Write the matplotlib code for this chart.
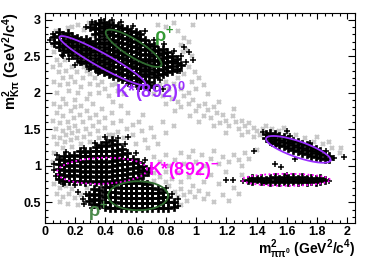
#!/usr/bin/env python3
"""
plot.py — Diagrama de Dalitz (m2_pipi0 vs m2_Kpi)
Salida: out.png (374x268)
"""

import numpy as np
import matplotlib
matplotlib.use("Agg")
import matplotlib.pyplot as plt
from matplotlib.ticker import MultipleLocator, FuncFormatter

# ── Datos: columnas (x, [y...]) de eventos seleccionados (negro) ──
nube_superior = [
    (0.06, [2.68, 2.76]),
    (0.09, [2.62, 2.70, 2.78, 2.83]),
    (0.12, [2.58, 2.65, 2.72, 2.79]),
    (0.15, [2.55, 2.62, 2.69, 2.76, 2.82]),
    (0.18, [2.52, 2.58, 2.65, 2.72, 2.78]),
    (0.21, [2.48, 2.55, 2.62, 2.69, 2.75]),
    (0.24, [2.44, 2.51, 2.58, 2.65, 2.72]),
    (0.27, [2.40, 2.47, 2.54, 2.61, 2.68, 2.74]),
    (0.30, [2.37, 2.44, 2.51, 2.58, 2.65, 2.71, 2.90]),
    (0.33, [2.34, 2.41, 2.48, 2.55, 2.62, 2.68, 2.80, 2.87, 2.94]),
    (0.36, [2.31, 2.38, 2.45, 2.52, 2.59, 2.66, 2.74, 2.81, 2.88, 2.95]),
    (0.39, [2.28, 2.35, 2.42, 2.49, 2.56, 2.63, 2.70, 2.77, 2.84, 2.91, 2.97]),
    (0.42, [2.25, 2.32, 2.39, 2.46, 2.53, 2.60, 2.67, 2.74, 2.81, 2.88, 2.94]),
    (0.45, [2.23, 2.30, 2.37, 2.44, 2.51, 2.58, 2.65, 2.72, 2.79, 2.86, 2.93]),
    (0.48, [2.21, 2.28, 2.35, 2.42, 2.49, 2.56, 2.63, 2.70, 2.77, 2.84, 2.91]),
    (0.51, [2.19, 2.26, 2.33, 2.40, 2.47, 2.54, 2.61, 2.68, 2.75, 2.82, 2.89]),
    (0.54, [2.17, 2.24, 2.31, 2.38, 2.45, 2.52, 2.59, 2.66, 2.73, 2.80, 2.87]),
    (0.57, [2.15, 2.22, 2.29, 2.36, 2.43, 2.50, 2.57, 2.64, 2.71, 2.78, 2.85]),
    (0.60, [2.13, 2.20, 2.27, 2.34, 2.41, 2.48, 2.55, 2.62, 2.69, 2.76, 2.83]),
    (0.63, [2.11, 2.18, 2.25, 2.32, 2.39, 2.46, 2.53, 2.60, 2.67, 2.74, 2.80]),
    (0.66, [2.09, 2.16, 2.23, 2.30, 2.37, 2.44, 2.51, 2.58, 2.65, 2.72]),
    (0.69, [2.08, 2.15, 2.25, 2.32, 2.39, 2.46, 2.53, 2.60, 2.67]),
    (0.72, [2.10, 2.22, 2.29, 2.36, 2.43, 2.50, 2.57, 2.64]),
    (0.75, [2.24, 2.31, 2.38, 2.45, 2.52, 2.59]),
    (0.78, [2.26, 2.33, 2.40, 2.47, 2.54, 2.60]),
    (0.81, [2.28, 2.35, 2.42, 2.49, 2.55]),
    (0.84, [2.30, 2.37, 2.44, 2.50]),
    (0.87, [2.33, 2.40, 2.46]),
    (0.90, [2.38]),
]

nube_kstm = [
    (0.09, [0.82, 0.89, 0.96, 1.03, 1.10]),
    (0.125, [0.80, 0.87, 0.94, 1.01, 1.08, 1.14]),
    (0.16, [0.79, 0.86, 0.93, 1.00, 1.07, 1.14]),
    (0.195, [0.80, 0.87, 0.94, 1.01, 1.08, 1.15]),
    (0.23, [0.79, 0.86, 0.93, 1.00, 1.07, 1.14, 1.20]),
    (0.265, [0.78, 0.85, 0.92, 0.99, 1.06, 1.13, 1.19]),
    (0.30, [0.79, 0.86, 0.93, 1.00, 1.07, 1.14, 1.21]),
    (0.335, [0.78, 0.85, 0.92, 0.99, 1.06, 1.13, 1.20, 1.26]),
    (0.37, [0.79, 0.86, 0.93, 1.00, 1.07, 1.14, 1.21, 1.28]),
    (0.405, [0.78, 0.85, 0.92, 0.99, 1.06, 1.13, 1.20, 1.27, 1.33]),
    (0.44, [0.79, 0.86, 0.93, 1.00, 1.07, 1.14, 1.21, 1.28, 1.35]),
    (0.475, [0.80, 0.87, 0.94, 1.01, 1.08, 1.15, 1.22, 1.30]),
    (0.51, [0.81, 0.88, 0.95, 1.02, 1.09, 1.16, 1.23]),
    (0.545, [0.82, 0.89, 0.96, 1.03, 1.10, 1.17]),
    (0.58, [0.83, 0.90, 0.97, 1.04, 1.10]),
    (0.615, [0.84, 0.91, 0.98, 1.05]),
    (0.65, [0.87, 0.94, 1.00]),
    (0.68, [0.92]),
]

nube_rho_inf = [
    (0.29, [0.52, 0.60]),
    (0.325, [0.48, 0.55, 0.62, 0.68]),
    (0.36, [0.46, 0.53, 0.60, 0.67]),
    (0.395, [0.44, 0.51, 0.58, 0.65, 0.71]),
    (0.43, [0.43, 0.50, 0.57, 0.64, 0.71]),
    (0.465, [0.43, 0.50, 0.57, 0.64, 0.71, 0.76]),
    (0.50, [0.42, 0.49, 0.56, 0.63, 0.70, 0.76]),
    (0.535, [0.42, 0.49, 0.56, 0.63, 0.70, 0.77]),
    (0.57, [0.42, 0.49, 0.56, 0.63, 0.70, 0.77]),
    (0.605, [0.42, 0.49, 0.56, 0.63, 0.70, 0.77]),
    (0.64, [0.42, 0.49, 0.56, 0.63, 0.70, 0.76]),
    (0.675, [0.42, 0.49, 0.56, 0.63, 0.70, 0.75]),
    (0.71, [0.42, 0.49, 0.56, 0.63, 0.70]),
    (0.745, [0.42, 0.49, 0.56, 0.63, 0.69]),
    (0.78, [0.43, 0.50, 0.57, 0.64]),
    (0.815, [0.43, 0.50, 0.57]),
    (0.85, [0.44, 0.50]),
]

nube_k0_der = [
    (1.46, [1.38, 1.44]),
    (1.49, [1.34, 1.40, 1.45]),
    (1.52, [1.31, 1.37, 1.43]),
    (1.55, [1.29, 1.35, 1.41]),
    (1.58, [1.27, 1.33, 1.39]),
    (1.61, [1.25, 1.31, 1.37]),
    (1.64, [1.22, 1.28, 1.34]),
    (1.67, [1.20, 1.26, 1.32]),
    (1.70, [1.18, 1.24, 1.30]),
    (1.73, [1.16, 1.22, 1.28]),
    (1.76, [1.14, 1.20, 1.26]),
    (1.79, [1.12, 1.18, 1.23]),
    (1.82, [1.11, 1.16, 1.21]),
    (1.85, [1.10, 1.15]),
    (1.88, [1.09, 1.13]),
]

nube_km_der = [
    (1.34, [0.81]), (1.37, [0.80, 0.84]), (1.40, [0.82]),
    (1.43, [0.79, 0.84]), (1.46, [0.81]), (1.49, [0.78, 0.83]),
    (1.52, [0.80, 0.85]), (1.55, [0.78, 0.82]), (1.58, [0.80, 0.85]),
    (1.61, [0.78, 0.82]), (1.64, [0.80, 0.85]), (1.67, [0.78, 0.82]),
    (1.70, [0.80, 0.85]), (1.73, [0.78, 0.82]), (1.76, [0.80, 0.84]),
    (1.79, [0.78, 0.82]), (1.82, [0.80, 0.84]), (1.85, [0.81]),
]

# eventos sueltos en los bordes de las nubes
sueltos = [
    (1.20, 0.81), (1.24, 0.81), (1.38, 1.21), (1.98, 1.12), (1.52, 1.02),
    (1.56, 0.99), (1.65, 1.10), (0.92, 2.62), (0.95, 2.55), (0.27, 2.90),
    (0.20, 2.38), (0.12, 2.50), (0.78, 2.05), (0.06, 0.95), (0.55, 1.40),
    (0.88, 0.55), (0.25, 0.55), (0.22, 0.65), (1.60, 1.48), (0.98, 2.45),
    (0.03, 2.72), (0.05, 2.80), (0.11, 2.52), (0.16, 2.46), (0.23, 2.40),
    (0.29, 2.33), (0.35, 2.27), (0.31, 2.96), (0.37, 3.00), (0.44, 2.99),
    (0.50, 2.96), (0.58, 2.91), (0.66, 2.84), (0.72, 2.72), (0.79, 2.66),
    (0.85, 2.57), (0.90, 2.50), (0.93, 2.42), (0.89, 2.30), (0.76, 2.17),
    (0.62, 2.05), (0.55, 2.12), (0.07, 0.86), (0.06, 1.02), (0.08, 1.15),
    (0.14, 1.19), (0.26, 1.25), (0.33, 1.31), (0.40, 1.39), (0.48, 1.38),
    (0.53, 1.30), (0.60, 1.17), (0.66, 1.08), (0.70, 0.97), (0.12, 0.75),
    (0.20, 0.74), (0.27, 0.62), (0.26, 0.48), (0.31, 0.43), (0.88, 0.45),
    (0.84, 0.62), (0.80, 0.70), (1.44, 1.47), (1.50, 1.30), (1.62, 1.41),
    (1.75, 1.31), (1.86, 1.20), (1.91, 1.11), (1.31, 0.80), (1.88, 0.80),
    (1.60, 0.88), (1.45, 0.76),
]

# ── Fondo (gris) ─────────────────────────────────────────────
fondo = [
    # arriba a la izquierda
    (0.06, 2.55), (0.08, 2.45), (0.05, 2.35), (0.10, 2.38), (0.13, 2.45),
    (0.09, 2.28), (0.14, 2.30), (0.18, 2.35), (0.12, 2.20), (0.17, 2.22),
    (0.21, 2.28), (0.22, 2.40), (0.06, 2.15), (0.10, 2.10), (0.15, 2.12),
    (0.20, 2.15), (0.25, 2.20), (0.28, 2.30), (0.26, 2.35), (0.30, 2.25),
    (0.33, 2.20), (0.24, 2.08), (0.30, 2.12), (0.35, 2.10), (0.38, 2.15),
    (0.40, 2.05), (0.44, 2.10), (0.36, 2.00), (0.30, 1.98), (0.22, 2.00),
    (0.16, 2.02), (0.08, 2.00), (0.12, 1.92), (0.20, 1.90), (0.28, 1.92),
    (0.42, 1.95), (0.48, 2.02), (0.52, 1.98), (0.47, 2.12), (0.18, 2.90),
    (0.22, 2.93), (0.26, 2.86), (0.29, 2.95), (0.15, 2.88), (0.32, 2.78),
    (0.05, 2.65), (0.07, 2.85),
    # a la derecha de rho+
    (0.88, 2.85), (0.92, 2.75), (0.90, 2.65), (0.95, 2.70), (0.93, 2.58),
    (0.97, 2.50), (0.91, 2.55), (0.95, 2.35), (0.99, 2.28), (0.92, 2.25),
    (0.97, 2.15), (1.02, 2.20), (1.05, 2.10), (0.88, 2.20), (0.85, 2.12),
    (0.80, 2.15), (0.76, 2.10), (0.82, 2.05), (0.90, 2.05), (0.95, 2.00),
    (0.98, 2.92), (0.85, 2.95), (0.80, 2.90), (0.75, 2.92),
    # banda diagonal
    (0.72, 1.98), (0.78, 1.95), (0.84, 1.92), (0.80, 1.85), (0.88, 1.88),
    (0.92, 1.95), (0.95, 1.85), (0.90, 1.80), (0.98, 1.90), (1.02, 1.82),
    (1.00, 1.75), (1.06, 1.85), (1.08, 1.76), (1.05, 1.68), (1.12, 1.80),
    (1.14, 1.72), (1.10, 1.65), (1.18, 1.70), (1.20, 1.62), (1.16, 1.58),
    (1.24, 1.68), (1.26, 1.60), (1.22, 1.54), (1.30, 1.62), (1.32, 1.55),
    (1.28, 1.50), (1.35, 1.58), (1.38, 1.52), (1.34, 1.46), (1.40, 1.48),
    (1.42, 1.42), (1.44, 1.50), (1.46, 1.55), (1.38, 1.40), (1.50, 1.50),
    (1.48, 1.36), (1.55, 1.48), (1.60, 1.45), (1.58, 1.52), (1.66, 1.42),
    (1.72, 1.38), (1.78, 1.33), (1.84, 1.30), (1.90, 1.24), (1.95, 1.18),
    (1.88, 1.32), (1.96, 1.25), (1.80, 1.40), (1.00, 2.05), (1.08, 1.98),
    (1.15, 1.88), (1.25, 1.78), (0.86, 1.75), (0.96, 1.68), (1.02, 1.60),
    (1.12, 1.55), (1.20, 1.45), (1.30, 1.42),
    # zona media izquierda
    (0.06, 1.85), (0.10, 1.80), (0.14, 1.84), (0.08, 1.72), (0.12, 1.68),
    (0.17, 1.75), (0.20, 1.80), (0.24, 1.82), (0.05, 1.62), (0.10, 1.58),
    (0.15, 1.60), (0.19, 1.66), (0.23, 1.70), (0.28, 1.75), (0.32, 1.85),
    (0.07, 1.50), (0.12, 1.48), (0.16, 1.52), (0.20, 1.55), (0.25, 1.60),
    (0.30, 1.65), (0.34, 1.70), (0.38, 1.78), (0.06, 1.40), (0.10, 1.38),
    (0.14, 1.42), (0.18, 1.45), (0.22, 1.48), (0.27, 1.50), (0.32, 1.55),
    (0.36, 1.60), (0.40, 1.66), (0.44, 1.72), (0.08, 1.30), (0.13, 1.32),
    (0.17, 1.35), (0.21, 1.38), (0.26, 1.40), (0.30, 1.44), (0.35, 1.48),
    (0.40, 1.52), (0.45, 1.58), (0.50, 1.62), (0.12, 1.24), (0.18, 1.26),
    (0.24, 1.30), (0.30, 1.32), (0.36, 1.38), (0.42, 1.42), (0.48, 1.46),
    (0.54, 1.50), (0.58, 1.56), (0.62, 1.60), (0.52, 1.38), (0.58, 1.42),
    (0.64, 1.48), (0.70, 1.52), (0.60, 1.30), (0.66, 1.36), (0.72, 1.40),
    (0.68, 1.25), (0.75, 1.30), (0.80, 1.45), (0.78, 1.60), (0.85, 1.55),
    (0.55, 1.72), (0.65, 1.70), (0.50, 1.82), (0.45, 1.88),
    # abajo a la derecha
    (0.72, 1.12), (0.76, 1.05), (0.80, 1.15), (0.82, 1.00), (0.86, 1.08),
    (0.90, 1.18), (0.92, 1.02), (0.95, 1.12), (0.98, 1.20), (1.00, 1.05),
    (1.04, 1.15), (1.06, 1.00), (1.10, 1.10), (1.12, 1.20), (1.15, 1.02),
    (1.18, 1.12), (1.22, 1.05), (1.25, 1.15), (1.28, 1.08), (1.32, 1.18),
    (1.35, 1.10), (1.40, 1.22), (1.30, 1.00), (0.72, 0.90), (0.76, 0.85),
    (0.80, 0.92), (0.84, 0.82), (0.88, 0.90), (0.90, 0.78), (0.95, 0.85),
    (0.98, 0.72), (1.02, 0.90), (1.05, 0.78), (1.10, 0.88), (1.15, 0.75),
    (1.20, 0.92), (1.25, 0.70), (1.30, 0.88), (0.82, 0.72), (0.86, 0.65),
    (0.88, 0.58), (0.90, 0.68), (0.92, 0.60), (0.94, 0.52), (0.96, 0.64),
    (0.99, 0.58), (1.02, 0.66), (0.85, 0.50), (0.90, 0.46), (1.05, 0.55),
    (1.08, 0.62), (1.12, 0.50), (1.18, 0.60), (1.22, 0.52), (1.28, 0.62),
    (0.80, 0.78), (0.78, 0.46),
    # abajo a la izquierda
    (0.06, 0.75), (0.10, 0.70), (0.14, 0.72), (0.18, 0.68), (0.08, 0.62),
    (0.12, 0.58), (0.16, 0.62), (0.20, 0.56), (0.24, 0.60), (0.10, 0.50),
    (0.15, 0.48), (0.22, 0.46), (0.26, 0.50), (0.28, 0.70), (0.06, 1.18),
    (0.05, 1.05), (0.72, 0.80), (0.45, 1.42), (0.35, 1.28),
]

# ── Elipses: (x, y, semieje mayor px, semieje menor px, ángulo, color, estilo)
elipses = [
    (0.586, 2.607, 32.5, 8.5, -32, "#2f6b2f", "-"),
    (0.380, 2.440, 49.0, 7.0, -29, "#9a2eff", "-"),
    (0.377, 0.933, 45.0, 13.0, 2, "#ff00ff", (0, (1, 1.4))),
    (0.616, 0.592, 30.0, 14.5, 0, "#2f6b2f", "-"),
    (1.675, 1.226, 34.0, 8.0, -19, "#9a2eff", "-"),
    (1.593, 0.810, 44.0, 6.0, 0, "#ff00ff", (0, (1, 1.4))),
]

# ── Etiquetas de resonancias: (x, y, texto, color) ───────────
etiquetas = [
    (0.72, 2.71, r"ρ$^{+}$", "#339933"),
    (0.46, 1.93, r"K*(892)$^{0}$", "#9a2eff"),
    (0.68, 0.88, r"K*(892)$^{-}$", "#ff00ff"),
    (0.285, 0.31, r"ρ$^{+}$", "#4a8a4a"),
]

# ── Estilo ───────────────────────────────────────────────────
plt.rcParams["font.family"] = ["Liberation Sans", "DejaVu Sans"]
plt.rcParams["font.weight"] = "bold"
plt.rcParams["mathtext.fontset"] = "custom"
plt.rcParams["mathtext.default"] = "regular"


def aplanar(columnas):
    xs = [x for x, ys in columnas for _ in ys]
    ys = [y for _, ys in columnas for y in ys]
    return xs, ys


fig = plt.figure(figsize=(3.74, 2.68), dpi=100)
ax = fig.add_axes([0.1203, 0.168, 0.8289, 0.7836])
ax.set_xlim(0, 2.05)
ax.set_ylim(0.22, 3.09)

fx, fy = zip(*fondo)
ax.plot(fx, fy, ls="none", marker="x", ms=3.4, mew=1.6, color="#c8c8c8")

# nubes densas: cruces rellenas para que el núcleo quede negro
for nube in [nube_superior, nube_kstm, nube_rho_inf, nube_k0_der, nube_km_der]:
    xs, ys = aplanar(nube)
    ax.plot(xs, ys, ls="none", marker="P", ms=6.2, mew=0.5,
            mfc="black", mec="black")
sx, sy = zip(*sueltos)
ax.plot(sx, sy, ls="none", marker="+", ms=4.5, mew=1.1, color="black")


def elipse(cx, cy, a, b, ang, color, estilo):
    t = np.linspace(0, 2 * np.pi, 240)
    th = np.radians(ang)
    u = a * np.cos(t) * np.cos(th) - b * np.sin(t) * np.sin(th)
    v = a * np.cos(t) * np.sin(th) + b * np.sin(t) * np.cos(th)
    px, py = ax.transData.transform((cx, cy))
    pts = ax.transData.inverted().transform(np.column_stack([px + u, py + v]))
    ax.plot(pts[:, 0], pts[:, 1], color=color, ls=estilo, lw=1.3)


for e in elipses:
    elipse(*e)

for x, y, texto, color in etiquetas:
    ax.text(x, y, texto, color=color, fontsize=13, fontweight="bold",
            ha="left", va="baseline")

# ── Ejes ─────────────────────────────────────────────────────
ax.xaxis.set_major_locator(MultipleLocator(0.2))
ax.xaxis.set_minor_locator(MultipleLocator(0.05))
ax.yaxis.set_major_locator(MultipleLocator(0.5))
ax.yaxis.set_minor_locator(MultipleLocator(0.1))
fmt = FuncFormatter(lambda v, _: "%g" % round(v, 2))
ax.xaxis.set_major_formatter(fmt)
ax.yaxis.set_major_formatter(fmt)
ax.tick_params(which="both", direction="in", top=True, right=True,
               labelsize=9, width=0.8)
ax.tick_params(axis="x", which="major", length=4, pad=2)
ax.tick_params(axis="x", which="minor", length=2)
ax.tick_params(axis="y", which="major", length=5, pad=3)
ax.tick_params(axis="y", which="minor", length=2.5)
for lab in ax.get_xticklabels() + ax.get_yticklabels():
    lab.set_fontweight("bold")
for s in ax.spines.values():
    s.set_linewidth(0.8)

ax.text(1.0, -0.125, r"m$^{2}_{ππ^{0}}$ (GeV$^{2}$/c$^{4}$)",
        transform=ax.transAxes, ha="right", va="center", fontsize=10,
        fontweight="bold")
ax.text(-0.108, 1.005, r"m$^{2}_{Kπ}$ (GeV$^{2}$/c$^{4}$)",
        transform=ax.transAxes, ha="center", va="top", rotation=90,
        fontsize=10.5, fontweight="bold")

fig.savefig("out.png", dpi=100)
plt.close(fig)
